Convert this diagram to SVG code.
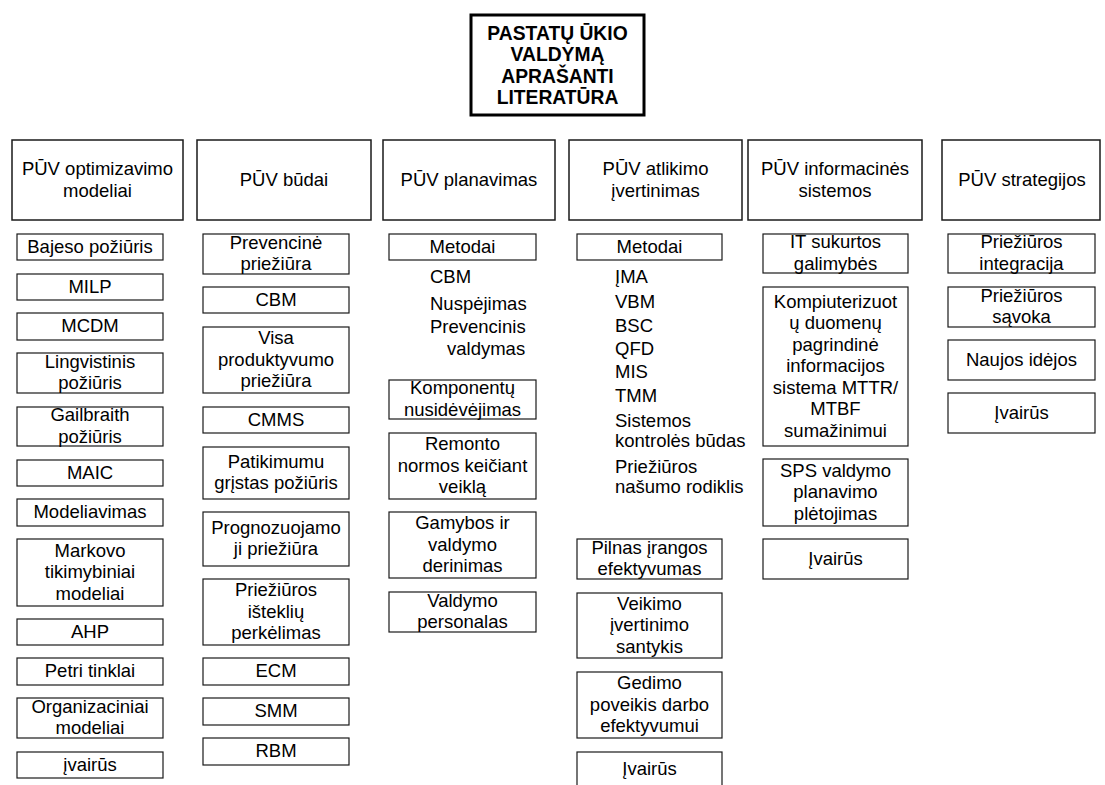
<svg xmlns="http://www.w3.org/2000/svg" width="1105" height="785" viewBox="0 0 1105 785">
<style>
  text { font-family: "Liberation Sans", Arial, sans-serif; font-size: 18.5px; fill: #000; }
  .c { text-anchor: middle; }
  .box { fill: #fff; stroke: #1a1a1a; stroke-width: 1.2; }
  .hdr { fill: #fff; stroke: #1a1a1a; stroke-width: 1.5; }
  .top { fill: #fff; stroke: #000; stroke-width: 3; }
  .bold { font-weight: bold; font-size: 19.3px; }
</style>
<rect x="0" y="0" width="1105" height="785" fill="#fff"/>
<g id="connectors"/>

<g id="root">
  <rect class="top" x="471" y="15" width="173" height="100"/>
  <text class="c bold" x="557.5" y="40">PASTATŲ ŪKIO</text>
  <text class="c bold" x="557.5" y="61.3">VALDYMĄ</text>
  <text class="c bold" x="557.5" y="82.7">APRAŠANTI</text>
  <text class="c bold" x="557.5" y="104">LITERATŪRA</text>
</g>

<!-- Headers -->
<g id="h1"><rect class="hdr" x="12" y="140" width="171" height="80"/>
  <text class="c" x="97.5" y="175">PŪV optimizavimo</text><text class="c" x="97.5" y="197">modeliai</text></g>
<g id="h2"><rect class="hdr" x="197" y="140" width="174" height="80"/>
  <text class="c" x="284" y="186">PŪV būdai</text></g>
<g id="h3"><rect class="hdr" x="383" y="140" width="172" height="80"/>
  <text class="c" x="469" y="186">PŪV planavimas</text></g>
<g id="h4"><rect class="hdr" x="569" y="140" width="173" height="80"/>
  <text class="c" x="655.5" y="175">PŪV atlikimo</text><text class="c" x="655.5" y="197">įvertinimas</text></g>
<g id="h5"><rect class="hdr" x="748" y="140" width="174" height="80"/>
  <text class="c" x="835" y="175">PŪV informacinės</text><text class="c" x="835" y="197">sistemos</text></g>
<g id="h6"><rect class="hdr" x="942" y="140" width="158" height="80"/>
  <text class="c" x="1022" y="186">PŪV strategijos</text></g>

<!-- Column 1 -->
<g id="c1a"><rect class="box" x="17" y="234" width="146" height="26"/><text class="c" x="90" y="252.5">Bajeso požiūris</text></g>
<g id="c1b"><rect class="box" x="17" y="274" width="146" height="26"/><text class="c" x="90" y="292.5">MILP</text></g>
<g id="c1c"><rect class="box" x="17" y="313" width="146" height="27"/><text class="c" x="90" y="332">MCDM</text></g>
<g id="c1d"><rect class="box" x="17" y="353" width="146" height="40"/><text class="c" x="90" y="367.75">Lingvistinis</text><text class="c" x="90" y="389.25">požiūris</text></g>
<g id="c1e"><rect class="box" x="17" y="407" width="146" height="39"/><text class="c" x="90" y="421.25">Gailbraith</text><text class="c" x="90" y="442.75">požiūris</text></g>
<g id="c1f"><rect class="box" x="17" y="460" width="146" height="26"/><text class="c" x="90" y="478.5">MAIC</text></g>
<g id="c1g"><rect class="box" x="17" y="499" width="146" height="27"/><text class="c" x="90" y="518">Modeliavimas</text></g>
<g id="c1h"><rect class="box" x="17" y="539" width="146" height="67"/><text class="c" x="90" y="556.5">Markovo</text><text class="c" x="90" y="578">tikimybiniai</text><text class="c" x="90" y="599.5">modeliai</text></g>
<g id="c1i"><rect class="box" x="17" y="619" width="146" height="26"/><text class="c" x="90" y="637.5">AHP</text></g>
<g id="c1j"><rect class="box" x="17" y="658" width="146" height="27"/><text class="c" x="90" y="677">Petri tinklai</text></g>
<g id="c1k"><rect class="box" x="17" y="698" width="146" height="40"/><text class="c" x="90" y="712.75">Organizaciniai</text><text class="c" x="90" y="734.25">modeliai</text></g>
<g id="c1l"><rect class="box" x="17" y="752" width="146" height="26"/><text class="c" x="90" y="770.5">įvairūs</text></g>

<!-- Column 2 -->
<g id="c2a"><rect class="box" x="203" y="234" width="146" height="40"/><text class="c" x="276" y="248.75">Prevencinė</text><text class="c" x="276" y="270.25">priežiūra</text></g>
<g id="c2b"><rect class="box" x="203" y="287" width="146" height="26"/><text class="c" x="276" y="305.5">CBM</text></g>
<g id="c2c"><rect class="box" x="203" y="327" width="146" height="66"/><text class="c" x="276" y="344">Visa</text><text class="c" x="276" y="365.5">produktyvumo</text><text class="c" x="276" y="387">priežiūra</text></g>
<g id="c2d"><rect class="box" x="203" y="407" width="146" height="26"/><text class="c" x="276" y="425.5">CMMS</text></g>
<g id="c2e"><rect class="box" x="203" y="447" width="146" height="52"/><text class="c" x="276" y="467.75">Patikimumu</text><text class="c" x="276" y="489.25">grįstas požiūris</text></g>
<g id="c2f"><rect class="box" x="203" y="512" width="146" height="54"/><text class="c" x="276" y="533.75">Prognozuojamo</text><text class="c" x="276" y="555.25">ji priežiūra</text></g>
<g id="c2g"><rect class="box" x="203" y="579" width="146" height="66"/><text class="c" x="276" y="596">Priežiūros</text><text class="c" x="276" y="617.5">išteklių</text><text class="c" x="276" y="639">perkėlimas</text></g>
<g id="c2h"><rect class="box" x="203" y="658" width="146" height="27"/><text class="c" x="276" y="677">ECM</text></g>
<g id="c2i"><rect class="box" x="203" y="698" width="146" height="27"/><text class="c" x="276" y="717">SMM</text></g>
<g id="c2j"><rect class="box" x="203" y="738" width="146" height="27"/><text class="c" x="276" y="757">RBM</text></g>

<!-- Column 3 -->
<g id="c3a"><rect class="box" x="389" y="234" width="147" height="26"/><text class="c" x="462.5" y="252.5">Metodai</text>
  <text x="430" y="283">CBM</text>
  <text x="430" y="310">Nuspėjimas</text>
  <text x="430" y="333">Prevencinis</text>
  <text x="447" y="355">valdymas</text></g>
<g id="c3b"><rect class="box" x="389" y="380" width="147" height="39"/><text class="c" x="462.5" y="394.25">Komponentų</text><text class="c" x="462.5" y="415.75">nusidėvėjimas</text></g>
<g id="c3c"><rect class="box" x="389" y="433" width="147" height="66"/><text class="c" x="462.5" y="450">Remonto</text><text class="c" x="462.5" y="471.5">normos keičiant</text><text class="c" x="462.5" y="493">veiklą</text></g>
<g id="c3d"><rect class="box" x="389" y="512" width="147" height="66"/><text class="c" x="462.5" y="529">Gamybos ir</text><text class="c" x="462.5" y="550.5">valdymo</text><text class="c" x="462.5" y="572">derinimas</text></g>
<g id="c3e"><rect class="box" x="389" y="592" width="147" height="40"/><text class="c" x="462.5" y="606.75">Valdymo</text><text class="c" x="462.5" y="628.25">personalas</text></g>

<!-- Column 4 -->
<g id="c4a"><rect class="box" x="577" y="234" width="145" height="26"/><text class="c" x="649.5" y="252.5">Metodai</text>
  <text x="615" y="283">ĮMA</text>
  <text x="615" y="308">VBM</text>
  <text x="615" y="332">BSC</text>
  <text x="615" y="355">QFD</text>
  <text x="615" y="378">MIS</text>
  <text x="615" y="402">TMM</text>
  <text x="615" y="427">Sistemos</text>
  <text x="615" y="447">kontrolės būdas</text>
  <text x="615" y="473">Priežiūros</text>
  <text x="615" y="493">našumo rodiklis</text></g>
<g id="c4b"><rect class="box" x="577" y="539" width="145" height="40"/><text class="c" x="649.5" y="553.75">Pilnas įrangos</text><text class="c" x="649.5" y="575.25">efektyvumas</text></g>
<g id="c4c"><rect class="box" x="577" y="593" width="145" height="65"/><text class="c" x="649.5" y="609.5">Veikimo</text><text class="c" x="649.5" y="631">įvertinimo</text><text class="c" x="649.5" y="652.5">santykis</text></g>
<g id="c4d"><rect class="box" x="577" y="672" width="145" height="66"/><text class="c" x="649.5" y="689">Gedimo</text><text class="c" x="649.5" y="710.5">poveikis darbo</text><text class="c" x="649.5" y="732">efektyvumui</text></g>
<g id="c4e"><rect class="box" x="577" y="752" width="145" height="45"/><text class="c" x="649.5" y="775">Įvairūs</text></g>

<!-- Column 5 -->
<g id="c5a"><rect class="box" x="763" y="234" width="145" height="39"/><text class="c" x="835.5" y="248.25">IT sukurtos</text><text class="c" x="835.5" y="269.75">galimybės</text></g>
<g id="c5b"><rect class="box" x="763" y="287" width="145" height="159"/>
  <text class="c" x="835.5" y="307.5">Kompiuterizuot</text>
  <text class="c" x="835.5" y="329">ų duomenų</text>
  <text class="c" x="835.5" y="350.5">pagrindinė</text>
  <text class="c" x="835.5" y="372">informacijos</text>
  <text class="c" x="835.5" y="393.5">sistema MTTR/</text>
  <text class="c" x="835.5" y="415">MTBF</text>
  <text class="c" x="835.5" y="436.5">sumažinimui</text></g>
<g id="c5c"><rect class="box" x="763" y="459" width="145" height="67"/><text class="c" x="835.5" y="476.5">SPS valdymo</text><text class="c" x="835.5" y="498">planavimo</text><text class="c" x="835.5" y="519.5">plėtojimas</text></g>
<g id="c5d"><rect class="box" x="763" y="539" width="145" height="40"/><text class="c" x="835.5" y="564.5">Įvairūs</text></g>

<!-- Column 6 -->
<g id="c6a"><rect class="box" x="948" y="234" width="147" height="39"/><text class="c" x="1021.5" y="248.25">Priežiūros</text><text class="c" x="1021.5" y="269.75">integracija</text></g>
<g id="c6b"><rect class="box" x="948" y="287" width="147" height="40"/><text class="c" x="1021.5" y="301.75">Priežiūros</text><text class="c" x="1021.5" y="323.25">sąvoka</text></g>
<g id="c6c"><rect class="box" x="948" y="340" width="147" height="40"/><text class="c" x="1021.5" y="365.5">Naujos idėjos</text></g>
<g id="c6d"><rect class="box" x="948" y="393" width="147" height="40"/><text class="c" x="1021.5" y="418.5">Įvairūs</text></g>
</svg>
